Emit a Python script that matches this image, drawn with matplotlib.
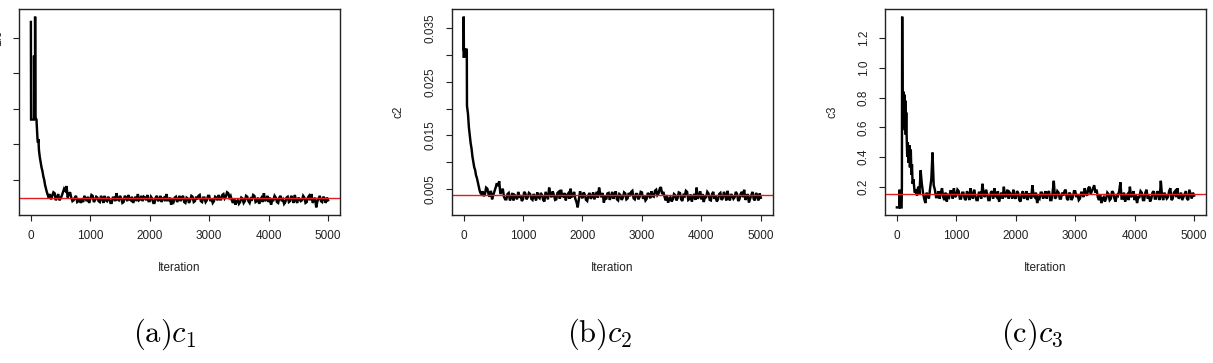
import numpy as np
import matplotlib
matplotlib.use('Agg')
import matplotlib.pyplot as plt

plt.rcParams['font.family'] = ['Liberation Sans', 'DejaVu Sans']
plt.rcParams['mathtext.fontset'] = 'cm'

# burn-in part of each chain: (iteration, value)
c1_burn_iter = [1, 4, 52, 54, 60, 70, 72, 76, 95, 105, 112, 120, 128, 136, 150, 165, 180, 195, 210, 225, 240, 255, 270, 285, 300]
c1_burn_val = [1.09, 0.54, 0.54, 0.90, 0.55, 0.55, 1.12, 0.55, 0.54, 0.47, 0.43, 0.41, 0.43, 0.37, 0.33, 0.30, 0.27, 0.25, 0.22, 0.20, 0.17, 0.15, 0.13, 0.115, 0.10]

c2_burn_iter = [1, 3, 6, 30, 32, 40, 55, 58, 75, 90, 105, 120, 135, 150, 165, 180, 195, 210, 225, 240, 255, 270, 285, 300]
c2_burn_val = [0.0297, 0.0372, 0.0310, 0.0310, 0.0296, 0.0310, 0.0310, 0.0205, 0.0190, 0.0165, 0.0150, 0.0135, 0.0125, 0.0110, 0.0100, 0.0090, 0.0085, 0.0075, 0.0070, 0.0062, 0.0055, 0.0047, 0.0042, 0.0040]

c3_burn_iter = [1, 40, 45, 55, 80, 85, 90, 95, 105, 112, 120, 128, 135, 142, 150, 158, 166, 175, 185, 195, 210, 220, 235, 245, 255, 265, 280, 300]
c3_burn_val = [0.061, 0.061, 0.18, 0.061, 0.061, 0.20, 1.345, 0.84, 0.66, 0.84, 0.60, 0.82, 0.58, 0.78, 0.55, 0.70, 0.53, 0.40, 0.50, 0.36, 0.48, 0.33, 0.45, 0.28, 0.35, 0.22, 0.25, 0.16]

# after burn-in, values read every 40 iterations from 320 to 5000
tail_iter = np.arange(320, 5001, 40)
# and the points in between (340, 380, ..., 4980)
mid_iter = np.arange(340, 4981, 40)

c1_tail = [0.12, 0.11, 0.125, 0.10, 0.085, 0.11, 0.15, 0.165, 0.12, 0.10,
           0.085, 0.11, 0.08, 0.07, 0.075, 0.095, 0.105, 0.09, 0.11, 0.085,
           0.10, 0.075, 0.095, 0.11, 0.08, 0.09, 0.07, 0.10, 0.125, 0.085,
           0.095, 0.075, 0.10, 0.115, 0.085, 0.07, 0.105, 0.12, 0.09, 0.08,
           0.10, 0.115, 0.08, 0.095, 0.07, 0.11, 0.09, 0.075, 0.10, 0.12,
           0.085, 0.06, 0.075, 0.105, 0.09, 0.08, 0.11, 0.07, 0.095, 0.085,
           0.105, 0.08, 0.09, 0.115, 0.075, 0.10, 0.085, 0.11, 0.095, 0.08,
           0.10, 0.115, 0.09, 0.12, 0.105, 0.125, 0.11, 0.07, 0.06, 0.085,
           0.075, 0.095, 0.08, 0.105, 0.07, 0.09, 0.11, 0.08, 0.065, 0.10,
           0.125, 0.09, 0.075, 0.06, 0.085, 0.10, 0.07, 0.11, 0.09, 0.075,
           0.105, 0.08, 0.095, 0.115, 0.07, 0.09, 0.085, 0.10, 0.075, 0.11,
           0.12, 0.085, 0.045, 0.095, 0.08, 0.105, 0.07, 0.085]
c1_mid = [0.09, 0.13, 0.085, 0.12, 0.095, 0.13, 0.14, 0.10, 0.13, 0.08,
          0.10, 0.075, 0.095, 0.09, 0.11, 0.08, 0.07, 0.115, 0.075, 0.105,
          0.08, 0.11, 0.07, 0.085, 0.105, 0.07, 0.10, 0.08, 0.09, 0.11,
          0.07, 0.11, 0.08, 0.09, 0.105, 0.09, 0.08, 0.085, 0.11, 0.105,
          0.085, 0.08, 0.105, 0.07, 0.10, 0.08, 0.11, 0.095, 0.08, 0.085,
          0.10, 0.085, 0.10, 0.075, 0.11, 0.10, 0.075, 0.10, 0.07, 0.11,
          0.075, 0.105, 0.11, 0.08, 0.10, 0.075, 0.11, 0.08, 0.07, 0.105,
          0.085, 0.09, 0.115, 0.095, 0.13, 0.10, 0.085, 0.095, 0.08, 0.065,
          0.10, 0.07, 0.11, 0.08, 0.095, 0.115, 0.075, 0.10, 0.09, 0.075,
          0.08, 0.11, 0.10, 0.085, 0.11, 0.075, 0.10, 0.08, 0.065, 0.10,
          0.075, 0.11, 0.07, 0.085, 0.10, 0.08, 0.11, 0.07, 0.10, 0.085,
          0.07, 0.10, 0.08, 0.11, 0.075, 0.095, 0.10]

c2_tail = [0.0045, 0.0040, 0.0050, 0.0035, 0.0030, 0.0045, 0.0060, 0.0064, 0.0045, 0.0035,
           0.0030, 0.0042, 0.0033, 0.0028, 0.0036, 0.0044, 0.0038, 0.0030, 0.0041, 0.0034,
           0.0040, 0.0029, 0.0035, 0.0043, 0.0032, 0.0038, 0.0026, 0.0037, 0.0052, 0.0034,
           0.0038, 0.0030, 0.0044, 0.0048, 0.0035, 0.0028, 0.0041, 0.0050, 0.0036, 0.0031,
           0.0015, 0.0045, 0.0032, 0.0039, 0.0027, 0.0042, 0.0035, 0.0030, 0.0044, 0.0052,
           0.0034, 0.0024, 0.0030, 0.0042, 0.0036, 0.0031, 0.0045, 0.0028, 0.0038, 0.0033,
           0.0041, 0.0032, 0.0036, 0.0046, 0.0030, 0.0040, 0.0034, 0.0043, 0.0037, 0.0031,
           0.0039, 0.0045, 0.0035, 0.0048, 0.0041, 0.0053, 0.0044, 0.0028, 0.0024, 0.0034,
           0.0030, 0.0038, 0.0032, 0.0042, 0.0027, 0.0036, 0.0044, 0.0031, 0.0026, 0.0040,
           0.0052, 0.0036, 0.0030, 0.0025, 0.0034, 0.0041, 0.0028, 0.0044, 0.0036, 0.0030,
           0.0042, 0.0032, 0.0038, 0.0046, 0.0028, 0.0036, 0.0034, 0.0040, 0.0030, 0.0044,
           0.0048, 0.0034, 0.0024, 0.0038, 0.0031, 0.0042, 0.0028, 0.0033]
c2_mid = [0.0036, 0.0052, 0.0040, 0.0046, 0.0038, 0.0052, 0.0055, 0.0040, 0.0050, 0.0030,
          0.0040, 0.0028, 0.0042, 0.0038, 0.0030, 0.0033, 0.0027, 0.0044, 0.0030, 0.0042,
          0.0031, 0.0040, 0.0028, 0.0034, 0.0042, 0.0029, 0.0044, 0.0030, 0.0038, 0.0045,
          0.0029, 0.0042, 0.0031, 0.0036, 0.0042, 0.0038, 0.0031, 0.0035, 0.0044, 0.0025,
          0.0030, 0.0036, 0.0043, 0.0029, 0.0038, 0.0031, 0.0043, 0.0037, 0.0033, 0.0040,
          0.0042, 0.0033, 0.0041, 0.0029, 0.0044, 0.0039, 0.0030, 0.0040, 0.0029, 0.0043,
          0.0030, 0.0042, 0.0044, 0.0032, 0.0040, 0.0030, 0.0044, 0.0031, 0.0028, 0.0042,
          0.0032, 0.0036, 0.0046, 0.0038, 0.0050, 0.0040, 0.0035, 0.0038, 0.0031, 0.0026,
          0.0040, 0.0028, 0.0043, 0.0030, 0.0038, 0.0046, 0.0029, 0.0039, 0.0035, 0.0029,
          0.0031, 0.0045, 0.0040, 0.0034, 0.0044, 0.0029, 0.0040, 0.0031, 0.0026, 0.0040,
          0.0029, 0.0044, 0.0028, 0.0034, 0.0040, 0.0031, 0.0044, 0.0027, 0.0040, 0.0034,
          0.0029, 0.0040, 0.0031, 0.0044, 0.0028, 0.0037, 0.0041]

c3_tail = [0.17, 0.20, 0.31, 0.16, 0.09, 0.14, 0.19, 0.43, 0.18, 0.13,
           0.12, 0.19, 0.11, 0.10, 0.13, 0.17, 0.19, 0.14, 0.17, 0.12,
           0.16, 0.11, 0.15, 0.19, 0.12, 0.14, 0.11, 0.16, 0.22, 0.13,
           0.15, 0.11, 0.17, 0.19, 0.13, 0.10, 0.16, 0.20, 0.14, 0.12,
           0.15, 0.18, 0.12, 0.16, 0.10, 0.17, 0.14, 0.11, 0.15, 0.21,
           0.13, 0.09, 0.12, 0.16, 0.14, 0.12, 0.17, 0.11, 0.24, 0.13,
           0.16, 0.12, 0.14, 0.18, 0.11, 0.15, 0.13, 0.17, 0.15, 0.12,
           0.16, 0.19, 0.14, 0.20, 0.17, 0.21, 0.18, 0.11, 0.09, 0.13,
           0.12, 0.15, 0.12, 0.16, 0.10, 0.14, 0.23, 0.12, 0.10, 0.15,
           0.20, 0.14, 0.11, 0.09, 0.13, 0.16, 0.11, 0.18, 0.14, 0.12,
           0.17, 0.12, 0.15, 0.24, 0.11, 0.14, 0.13, 0.19, 0.12, 0.17,
           0.19, 0.13, 0.11, 0.15, 0.12, 0.18, 0.12, 0.14]
c3_mid = [0.14, 0.15, 0.22, 0.12, 0.16, 0.12, 0.25, 0.21, 0.13, 0.17,
          0.16, 0.13, 0.16, 0.14, 0.17, 0.12, 0.13, 0.18, 0.12, 0.16,
          0.12, 0.17, 0.11, 0.14, 0.18, 0.11, 0.16, 0.12, 0.15, 0.18,
          0.11, 0.16, 0.12, 0.14, 0.17, 0.14, 0.12, 0.13, 0.18, 0.16,
          0.12, 0.13, 0.17, 0.11, 0.15, 0.12, 0.17, 0.15, 0.12, 0.14,
          0.16, 0.13, 0.16, 0.12, 0.17, 0.16, 0.11, 0.16, 0.12, 0.17,
          0.12, 0.16, 0.17, 0.12, 0.16, 0.11, 0.17, 0.13, 0.11, 0.16,
          0.13, 0.15, 0.19, 0.15, 0.19, 0.16, 0.13, 0.15, 0.12, 0.10,
          0.16, 0.11, 0.17, 0.12, 0.15, 0.17, 0.12, 0.16, 0.14, 0.11,
          0.13, 0.17, 0.15, 0.13, 0.17, 0.11, 0.16, 0.12, 0.10, 0.16,
          0.12, 0.17, 0.11, 0.14, 0.16, 0.12, 0.17, 0.11, 0.16, 0.13,
          0.12, 0.16, 0.13, 0.17, 0.11, 0.15, 0.16]

true_vals = [0.097, 0.0039, 0.151]
ylabels = ['c1', 'c2', 'c3']
captions = [r'$\mathrm{(a)}c_1$', r'$\mathrm{(b)}c_2$', r'$\mathrm{(c)}c_3$']

yticks = [[0.2, 0.4, 0.6, 0.8, 1.0],
          [0.005, 0.010, 0.015, 0.020, 0.025, 0.030, 0.035],
          [0.2, 0.4, 0.6, 0.8, 1.0, 1.2]]
yticklabels = [['0.2', '0.4', '0.6', '0.8', '1.0'],
               ['0.005', '', '0.015', '', '0.025', '', '0.035'],
               ['0.2', '0.4', '0.6', '0.8', '1.0', '1.2']]

chains = [(c1_burn_iter, c1_burn_val, c1_tail, c1_mid),
          (c2_burn_iter, c2_burn_val, c2_tail, c2_mid),
          (c3_burn_iter, c3_burn_val, c3_tail, c3_mid)]

fig = plt.figure(figsize=(12.13, 3.63), dpi=100)

lefts = [19 / 1213, 451.7 / 1213, 885 / 1213]
cap_x = [165 / 1213, 600 / 1213, 1032 / 1213]
W = 321 / 1213
B = 1 - 215 / 363
H = 206 / 363

for i in range(3):
    ax = fig.add_axes([lefts[i], B, W, H])
    bi, bv, tv, mv = chains[i]
    x = np.concatenate([bi, tail_iter, mid_iter])
    y = np.concatenate([bv, tv, mv])
    order = np.argsort(x, kind='stable')
    ax.plot(x[order], y[order], color='black', lw=1.75, solid_joinstyle='miter')
    ax.axhline(true_vals[i], color='#e41a1c', lw=1.0)
    ax.margins(x=0.04, y=0.04)

    ax.set_xticks([0, 1000, 2000, 3000, 4000, 5000])
    ax.set_yticks(yticks[i])
    ax.set_yticklabels(yticklabels[i], rotation=90, va='center')
    ax.tick_params(length=4, width=0.8, labelsize=8.5, pad=7, colors='#222222')
    for s in ax.spines.values():
        s.set_linewidth(1.0)
        s.set_color('#222222')
    ax.set_xlabel('Iteration', fontsize=8.5, labelpad=14, color='#222222')
    ax.set_ylabel(ylabels[i], fontsize=8.5, labelpad=14, color='#222222')

    fig.text(cap_x[i], 1 - 334 / 363, captions[i], fontsize=22, ha='center', va='center')

fig.savefig('out.png', dpi=100)
